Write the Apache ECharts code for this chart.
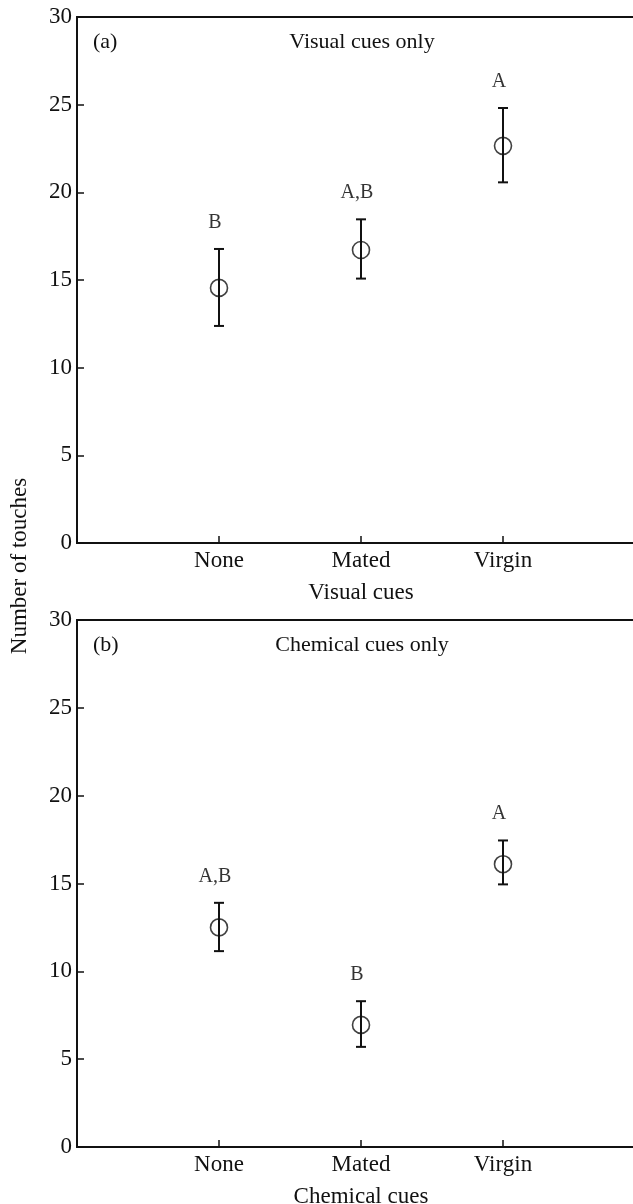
<!DOCTYPE html>
<html><head><meta charset="utf-8">
<script src="https://cdn.jsdelivr.net/npm/echarts@6/dist/echarts.min.js"></script>
<style>html,body{margin:0;padding:0;background:#fff}#c{width:633px;height:1204px}</style>
</head><body><div id="c"></div>
<script>
const categories = ['None', 'Mated', 'Virgin'];
const visualMean = [14.55, 16.71, 22.65];
const visualUpper = [16.77, 18.46, 24.81];
const visualLower = [12.38, 15.08, 20.57];
const visualLetters = ['B', 'A,B', 'A'];
const chemMean = [12.5, 6.95, 16.1];
const chemUpper = [13.9, 8.3, 17.45];
const chemLower = [11.15, 5.7, 14.95];
const chemLetters = ['A,B', 'B', 'A'];
const panelTags = ['(a)', '(b)'];
const panelTitles = ['Visual cues only', 'Chemical cues only'];
const xNames = ['Visual cues', 'Chemical cues'];
const yName = 'Number of touches';

const FONT = 'Liberation Serif';
const FS = 23;
const chart = echarts.init(document.getElementById('c'));

const grids = [
  {left: 77, top: 17, width: 568, height: 526},
  {left: 77, top: 620, width: 568, height: 527}
];

function xAxis(i) {
  return {
    type: 'value', gridIndex: i, min: 0, max: 4, interval: 1,
    name: xNames[i], nameLocation: 'middle', nameGap: 38,
    nameTextStyle: {fontFamily: FONT, fontSize: FS, color: '#111'},
    axisLine: {lineStyle: {color: '#111', width: 1.8}},
    axisTick: {inside: true, length: 7, lineStyle: {color: '#111', width: 1.5}},
    axisLabel: {margin: 6, fontFamily: FONT, fontSize: FS, color: '#111',
      formatter: v => (v >= 1 && v <= categories.length) ? categories[v - 1] : ''},
    splitLine: {show: false}
  };
}
function yAxis(i) {
  return {
    type: 'value', gridIndex: i, min: 0, max: 30, interval: 5,
    axisLine: {show: true, lineStyle: {color: '#111', width: 1.8}},
    axisTick: {show: true, inside: true, length: 7, lineStyle: {color: '#111', width: 1.5}},
    axisLabel: {margin: 5, fontFamily: FONT, fontSize: FS, color: '#111'},
    splitLine: {show: false}
  };
}

function seriesFor(i, mean, upper, lower, letters) {
  const pts = mean.map((m, k) => [k + 1, m]);
  const err = mean.map((m, k) => [k + 1, lower[k], upper[k]]);
  const lab = mean.map((m, k) => ({value: [k + 1, upper[k]], letter: letters[k]}));
  return [
    {
      type: 'custom', xAxisIndex: i, yAxisIndex: i, data: err,
      renderItem: (params, api) => {
        const lo = api.coord([api.value(0), api.value(1)]);
        const hi = api.coord([api.value(0), api.value(2)]);
        const w = 5;
        const st = {stroke: '#111', lineWidth: 2};
        return {type: 'group', children: [
          {type: 'line', shape: {x1: lo[0], y1: lo[1], x2: hi[0], y2: hi[1]}, style: st},
          {type: 'line', shape: {x1: lo[0] - w, y1: lo[1], x2: lo[0] + w, y2: lo[1]}, style: st},
          {type: 'line', shape: {x1: hi[0] - w, y1: hi[1], x2: hi[0] + w, y2: hi[1]}, style: st}
        ]};
      },
      silent: true, z: 2
    },
    {
      type: 'scatter', xAxisIndex: i, yAxisIndex: i, data: pts,
      symbol: 'circle', symbolSize: 17,
      itemStyle: {color: 'rgba(0,0,0,0)', borderColor: '#111', borderWidth: 1.6},
      silent: true, z: 3
    },
    {
      type: 'scatter', xAxisIndex: i, yAxisIndex: i, data: lab,
      symbolSize: 1, itemStyle: {color: 'rgba(0,0,0,0)'},
      label: {show: true, position: 'top', distance: 16, offset: [-4, 0],
        formatter: p => p.data.letter, fontFamily: FONT, fontSize: 20, color: '#000',
        textBorderWidth: 0},
      silent: true, z: 4
    }
  ];
}

const ts = (size) => ({fontFamily: FONT, fontSize: size, fill: '#111'});
const graphic = [];
[0, 1].forEach(i => {
  const cy = grids[i].top + 25;
  graphic.push({type: 'text', x: 93, y: cy, style: Object.assign({text: panelTags[i], verticalAlign: 'middle'}, ts(22))});
  graphic.push({type: 'text', x: 362, y: cy, style: Object.assign({text: panelTitles[i], align: 'center', verticalAlign: 'middle'}, ts(22))});
});
graphic.push({type: 'text', x: 20, y: 566, rotation: Math.PI / 2,
  style: Object.assign({text: yName, align: 'center', verticalAlign: 'middle'}, ts(23))});

chart.setOption({
  animation: false,
  backgroundColor: '#fff',
  grid: grids.map(g => Object.assign({show: true, borderColor: '#111', borderWidth: 1.8,
    backgroundColor: 'transparent', containLabel: false, outerBoundsMode: 'none'}, g)),
  xAxis: [xAxis(0), xAxis(1)],
  yAxis: [yAxis(0), yAxis(1)],
  series: [].concat(
    seriesFor(0, visualMean, visualUpper, visualLower, visualLetters),
    seriesFor(1, chemMean, chemUpper, chemLower, chemLetters)
  ),
  graphic: graphic
});
</script></body></html>
